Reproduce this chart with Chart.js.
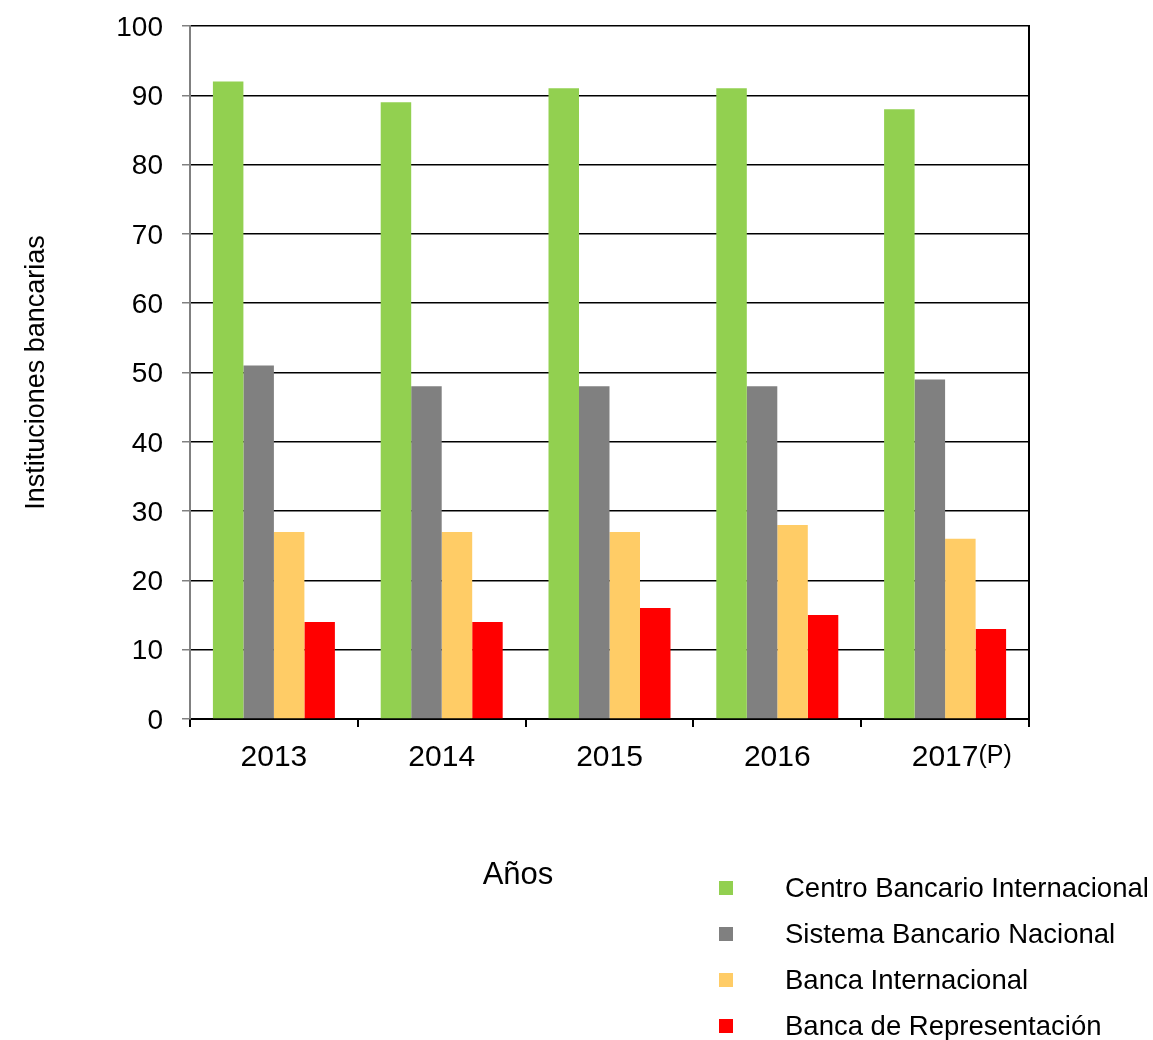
<!DOCTYPE html>
<html>
<head>
<meta charset="utf-8">
<script src="https://cdn.jsdelivr.net/npm/chart.js@4/dist/chart.umd.min.js"></script>
<style>
    html, body { margin: 0; padding: 0; background: #fff; }
    #wrap { position: relative; width: 1153px; height: 1040px; font-family: Arial, "Liberation Sans", sans-serif; }
    #chart { position: absolute; left: 0; top: 0; }
    #xtitle { position: absolute; left: 418px; width: 200px; top: 856px; text-align: center; font-size: 31px; line-height: 36px; color: #000; }
    #legend { position: absolute; left: 719px; top: 866px; }
    .row { position: relative; height: 46px; font-size: 27.5px; color: #000; }
    .box { position: absolute; left: 0; top: 15px; width: 14px; height: 14px; }
    .lbl { position: absolute; left: 66px; top: 6px; white-space: nowrap; line-height: 32px; }
</style>
</head>
<body>
<div id="wrap">
    <canvas id="chart" width="1153" height="1040"></canvas>
    <div id="xtitle">Años</div>
    <div id="legend"></div>
</div>
<script>
// ============================================
// DATA
// ============================================

const years = ['2013', '2014', '2015', '2016', '2017'];
const yearSuffix = ['', '', '', '', '(P)'];

const seriesNames = [
    'Centro Bancario Internacional',
    'Sistema Bancario Nacional',
    'Banca Internacional',
    'Banca de Representación'
];

const centroBancario = [92, 89, 91, 91, 88];
const sistemaBancario = [51, 48, 48, 48, 49];
const bancaInternacional = [27, 27, 27, 28, 26];
const bancaRepresentacion = [14, 14, 16, 15, 13];

const seriesColors = ['#92D050', '#808080', '#FFCC66', '#FF0000'];

const yTicks = [0, 10, 20, 30, 40, 50, 60, 70, 80, 90, 100];

// ============================================
// CHART
// ============================================

const FONT = 'Arial, "Liberation Sans", sans-serif';

const seriesValues = [centroBancario, sistemaBancario, bancaInternacional, bancaRepresentacion];

// right frame line + superscript suffix on the last year
const extrasPlugin = {
    id: 'extras',
    afterDraw(chart) {
        const ctx = chart.ctx;
        const area = chart.chartArea;
        const x = chart.scales.x;

        ctx.save();
        ctx.strokeStyle = '#000';
        ctx.lineWidth = 2;
        ctx.beginPath();
        ctx.moveTo(area.right, area.top - 1);
        ctx.lineTo(area.right, area.bottom + 8);
        ctx.stroke();

        ctx.fillStyle = '#000';
        ctx.textBaseline = 'alphabetic';
        for (let i = 0; i < years.length; i++) {
            if (!yearSuffix[i]) continue;
            ctx.font = '30px ' + FONT;
            const cx = x.getPixelForTick(i);
            const w = ctx.measureText(years[i]).width;
            ctx.font = '25px ' + FONT;
            ctx.fillText(yearSuffix[i], cx + w / 2, 763);
        }
        ctx.restore();
    }
};

new Chart(document.getElementById('chart').getContext('2d'), {
    type: 'bar',

    data: {
        labels: years,
        datasets: seriesNames.map((name, i) => ({
            label: name,
            data: seriesValues[i],
            backgroundColor: seriesColors[i],
            borderWidth: 0,
            barPercentage: 1,
            categoryPercentage: 0.727
        }))
    },

    options: {
        responsive: false,
        animation: false,
        layout: {
            padding: { left: 0, top: 26, right: 124, bottom: 0 }
        },

        plugins: {
            legend: { display: false },
            tooltip: { enabled: false }
        },

        scales: {
            x: {
                afterFit(scale) {
                    scale.height = 321;
                    scale.paddingLeft = 0;
                    scale.paddingRight = 0;
                },
                border: { color: '#000', width: 2 },
                grid: {
                    drawOnChartArea: false,
                    offset: true,
                    tickLength: 8,
                    color: '#000',
                    lineWidth: 2
                },
                ticks: {
                    color: '#000',
                    padding: 13,
                    font: { family: FONT, size: 30 }
                }
            },

            y: {
                min: 0,
                max: 100,
                afterFit(scale) {
                    scale.width = 190;
                    scale.paddingTop = 0;
                    scale.paddingBottom = 0;
                },
                afterBuildTicks(scale) {
                    scale.ticks = yTicks.map(v => ({ value: v }));
                },
                border: { color: '#808080', width: 2 },
                grid: {
                    color: '#000',
                    lineWidth: 1.5,
                    tickLength: 8,
                    tickColor: '#808080'
                },
                ticks: {
                    color: '#000',
                    padding: 19,
                    labelOffset: 2,
                    font: { family: FONT, size: 28 }
                },
                title: {
                    display: true,
                    text: 'Instituciones bancarias',
                    color: '#000',
                    padding: { top: 20, bottom: 0 },
                    font: { family: FONT, size: 27 }
                }
            }
        }
    },

    plugins: [extrasPlugin]
});

// legend
const legendEl = document.getElementById('legend');
seriesNames.forEach((name, i) => {
    const row = document.createElement('div');
    row.className = 'row';
    row.innerHTML = `<div class="box" style="background:${seriesColors[i]}"></div><div class="lbl">${name}</div>`;
    legendEl.appendChild(row);
});
</script>
</body>
</html>
